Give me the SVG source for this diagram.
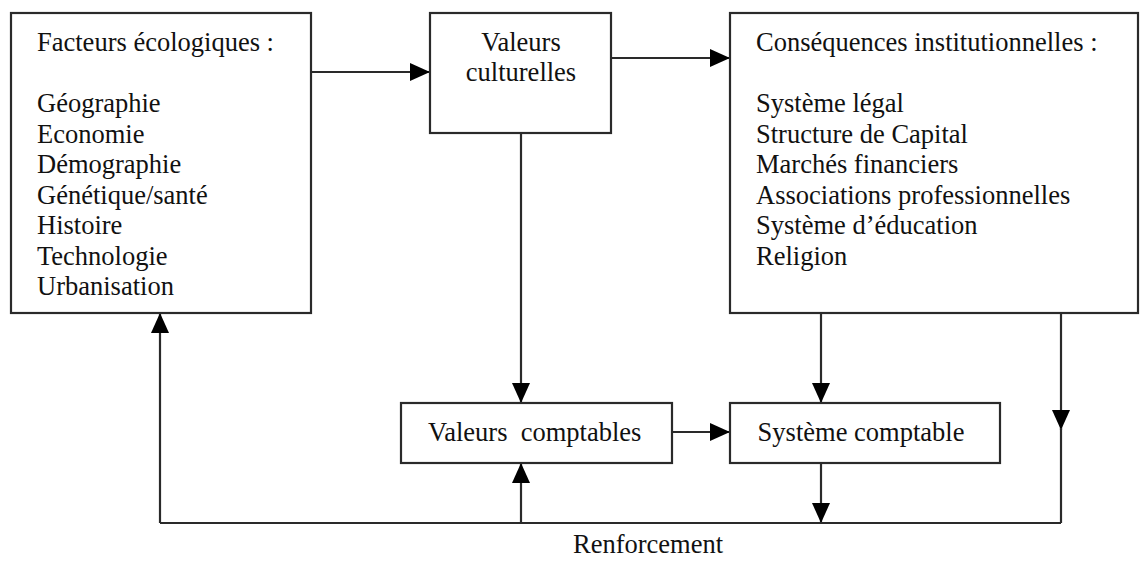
<svg xmlns="http://www.w3.org/2000/svg" width="1140" height="561" viewBox="0 0 1140 561">
<style>
.box{fill:#fff;stroke:#2a2a2a;stroke-width:2.2}
.ln{fill:none;stroke:#2a2a2a;stroke-width:2.2}
text{font-family:"Liberation Serif","Times New Roman",serif;font-size:26.5px;fill:#111}
.c{text-anchor:middle}
</style>
<defs>
<marker id="ah" viewBox="0 0 20 18" refX="20" refY="9" markerWidth="20" markerHeight="18" markerUnits="userSpaceOnUse" orient="auto">
<path d="M0,0 L20,9 L0,18 Z" fill="#000"/>
</marker>
</defs>
<rect width="1140" height="561" fill="#fff"/>
<g id="connectors">
<line class="ln" x1="311" y1="72" x2="430" y2="72" marker-end="url(#ah)"/>
<line class="ln" x1="611" y1="58" x2="730" y2="58" marker-end="url(#ah)"/>
<line class="ln" x1="521" y1="133" x2="521" y2="403" marker-end="url(#ah)"/>
<line class="ln" x1="821" y1="313" x2="821" y2="403" marker-end="url(#ah)"/>
<line class="ln" x1="672" y1="432" x2="730" y2="432" marker-end="url(#ah)"/>
<line class="ln" x1="1061" y1="313" x2="1061" y2="430" marker-end="url(#ah)"/>
<line class="ln" x1="1061" y1="428" x2="1061" y2="523"/>
<line class="ln" x1="821" y1="463" x2="821" y2="523" marker-end="url(#ah)"/>
<polyline class="ln" points="1061,523 160,523"/>
<line class="ln" x1="521" y1="523" x2="521" y2="463" marker-end="url(#ah)"/>
<line class="ln" x1="160" y1="523" x2="160" y2="313" marker-end="url(#ah)"/>
<text x="573" y="553">Renforcement</text>
</g>
<g id="facteurs">
<rect class="box" x="11" y="13" width="300" height="300"/>
<text x="37" y="51">Facteurs écologiques :</text>
<text x="37" y="112">Géographie</text>
<text x="37" y="142.5">Economie</text>
<text x="37" y="173">Démographie</text>
<text x="37" y="203.5">Génétique/santé</text>
<text x="37" y="234">Histoire</text>
<text x="37" y="264.5">Technologie</text>
<text x="37" y="295">Urbanisation</text>
</g>
<g id="valeurs-culturelles">
<rect class="box" x="430" y="13" width="181" height="120"/>
<text class="c" x="521" y="51">Valeurs</text>
<text class="c" x="521" y="81">culturelles</text>
</g>
<g id="consequences">
<rect class="box" x="730" y="13" width="408" height="300"/>
<text x="756" y="51">Conséquences institutionnelles :</text>
<text x="756" y="112">Système légal</text>
<text x="756" y="142.5">Structure de Capital</text>
<text x="756" y="173">Marchés financiers</text>
<text x="756" y="203.5">Associations professionnelles</text>
<text x="756" y="234">Système d’éducation</text>
<text x="756" y="264.5">Religion</text>
</g>
<g id="valeurs-comptables">
<rect class="box" x="401" y="403" width="271" height="60"/>
<text x="428" y="441" xml:space="preserve">Valeurs  comptables</text>
</g>
<g id="systeme-comptable">
<rect class="box" x="730" y="403" width="270" height="60"/>
<text class="c" x="861" y="441">Système comptable</text>
</g>
</svg>
